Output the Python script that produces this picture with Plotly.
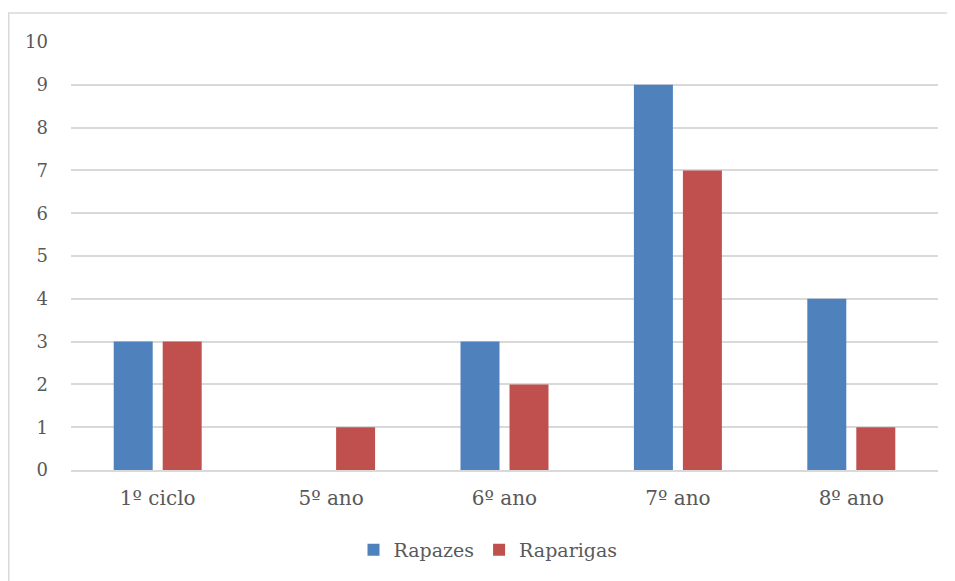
import plotly.graph_objects as go

categories = ["1º ciclo", "5º ano", "6º ano", "7º ano", "8º ano"]
rapazes = [3, 0, 3, 9, 4]
raparigas = [3, 1, 2, 7, 1]
y_ticks = list(range(0, 11))

font_family = "DejaVu Serif"
txt = "#595959"

fig = go.Figure()
fig.add_trace(go.Bar(x=categories, y=rapazes, name="Rapazes",
                     marker=dict(color="#4f81bd", line=dict(width=0))))
fig.add_trace(go.Bar(x=categories, y=raparigas, name="Raparigas",
                     marker=dict(color="#c0504d", line=dict(width=0))))

# page has an 8px body margin; figure spans page x 8..955, y 8..581
OFF = 8
W, H = 955 - OFF, 581 - OFF
L, R, T, B = 71 - OFF, 17, 42 - OFF, 111
pw, ph = W - L - R, H - T - B

def px_x(page_x):
    return (page_x - OFF - L) / pw

def px_y(page_y):
    return (T + ph - (page_y - OFF)) / ph

fig.update_layout(
    width=W, height=H,
    margin=dict(l=L, r=R, t=T, b=B),
    paper_bgcolor="white", plot_bgcolor="white",
    barmode="group", bargap=0.435, bargroupgap=0.204,
    font=dict(family=font_family, color=txt, size=18),
    showlegend=True,
    legend=dict(orientation="h", x=px_x(488), xanchor="center",
                y=px_y(550), yanchor="middle",
                font=dict(size=19, family=font_family, color=txt),
                itemwidth=30, tracegroupgap=0),
    xaxis=dict(showgrid=False, showline=True, linecolor="#d9d9d9", linewidth=1.5,
               ticks="", tickfont=dict(size=20), ticklabelstandoff=9),
    yaxis=dict(range=[0, 10], tickvals=y_ticks, showgrid=True, gridcolor="#d9d9d9",
               gridwidth=1.5, zeroline=False, ticks="", tickfont=dict(size=18),
               ticklabelstandoff=22),
    shapes=[dict(type="rect", xref="paper", yref="paper",
                 x0=px_x(8.75), x1=px_x(965),
                 y0=px_y(590), y1=px_y(13),
                 line=dict(color="#d9d9d9", width=1.5), fillcolor="rgba(0,0,0,0)",
                 layer="below")],
)

fig.write_html("out.html")
